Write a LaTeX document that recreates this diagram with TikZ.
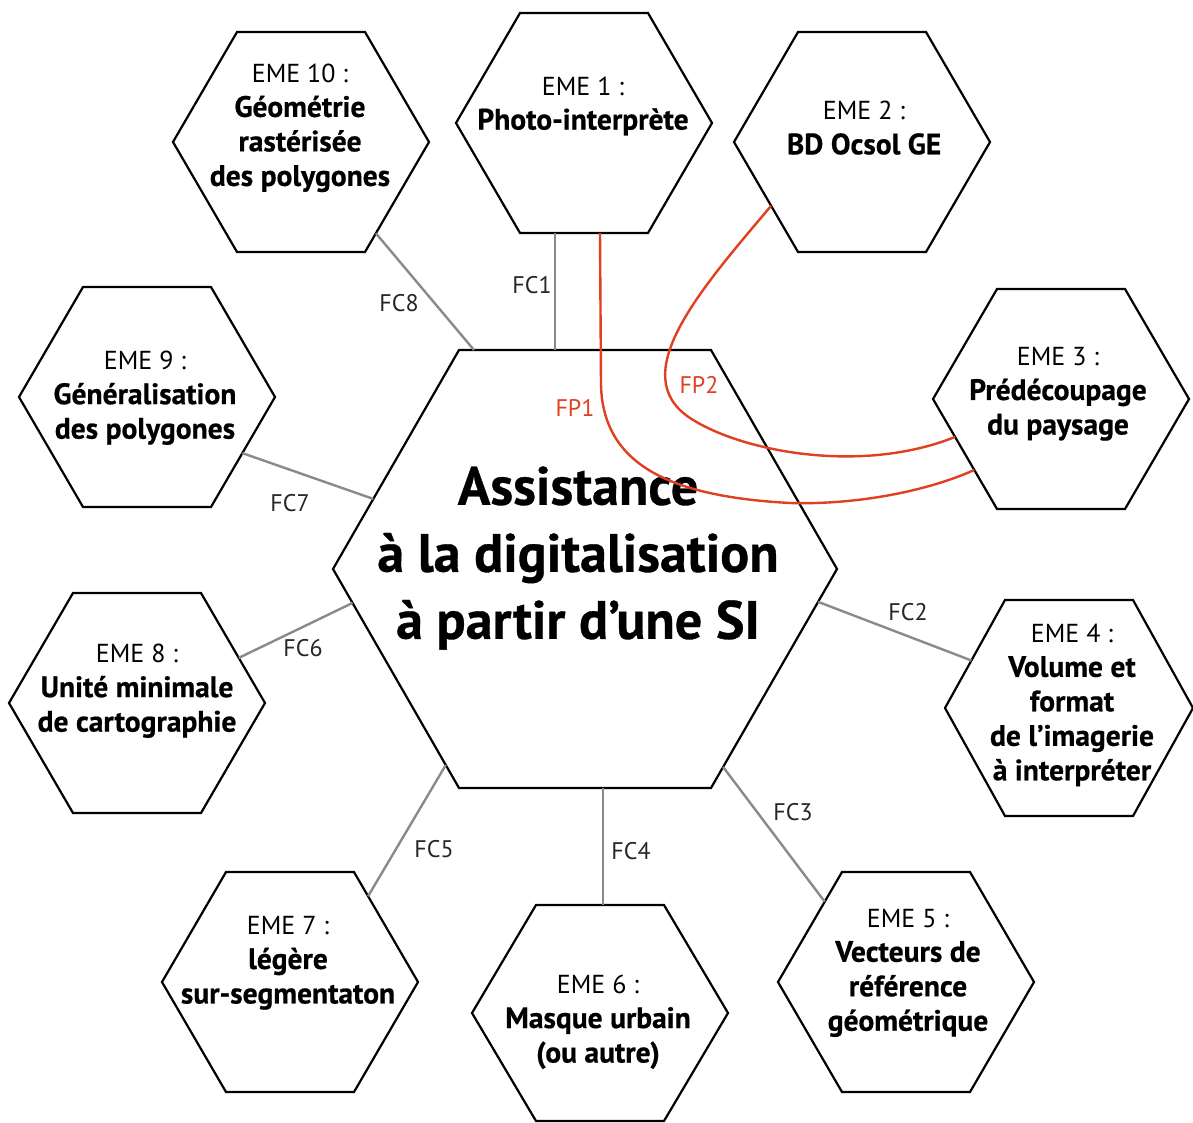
\documentclass[tikz,border=0pt]{standalone}
\usepackage{fontspec}
\setmainfont{PT Sans}[BoldFeatures={FakeBold=0.6}]
\usetikzlibrary{calc}
\definecolor{fcgrey}{HTML}{8A8A8A}
\definecolor{fpred}{HTML}{E0401F}
\newcommand{\hb}[1]{{\fontsize{29.5}{34.5}\selectfont\bfseries #1}}
\tikzset{
  hexline/.style={draw=black, line width=2.2pt, line join=miter},
  fcline/.style={draw=fcgrey, line width=2.4pt},
  fpline/.style={draw=fpred, line width=2.4pt},
  emetext/.style={align=center, inner sep=0pt, font=\fontsize{26}{34.5}\selectfont},
  centertext/.style={align=center, inner sep=0pt, font=\fontsize{54}{67}\selectfont\bfseries},
  fclabel/.style={inner sep=0pt, font=\fontsize{24}{26}\selectfont, text=black!85},
  fplabel/.style={inner sep=0pt, font=\fontsize{24}{26}\selectfont, text=fpred},
}
\newcommand{\hexshape}[6]{% name, cx, cy, half-width, half-edge, half-height
  \coordinate (#1-c) at (#2,#3);
  \coordinate (#1-l) at (#2-#4,#3);
  \coordinate (#1-tl) at (#2-#5,#3-#6);
  \coordinate (#1-tr) at (#2+#5,#3-#6);
  \coordinate (#1-r) at (#2+#4,#3);
  \coordinate (#1-br) at (#2+#5,#3+#6);
  \coordinate (#1-bl) at (#2-#5,#3+#6);
  \draw[hexline] (#1-l) -- (#1-tl) -- (#1-tr) -- (#1-r) -- (#1-br) -- (#1-bl) -- cycle;
}
\begin{document}
\begin{tikzpicture}[x=1pt,y=-1pt]
\useasboundingbox (0,0) rectangle (1193,1123);
\fill[white] (0,0) rectangle (1193,1123);

% hexagons
\hexshape{c}{585}{569}{252}{126}{219}
\hexshape{h1}{584}{123}{128}{64}{110}
\hexshape{h2}{862}{142}{128}{64}{110}
\hexshape{h3}{1061}{399}{128}{64}{110}
\hexshape{h4}{1069}{708}{124}{64}{108}
\hexshape{h5}{906}{982}{128}{64}{110}
\hexshape{h6}{600}{1013}{128}{64}{108}
\hexshape{h7}{290}{982}{128}{64}{110}
\hexshape{h8}{137}{703}{128}{64}{110}
\hexshape{h9}{147}{397}{128}{64}{110}
\hexshape{h10}{301}{142}{128}{64}{110}

% connector end points
\coordinate (fc1a) at ($(h1-bl)+(35,0)$);
\coordinate (fc1b) at ($(c-tl)+(96,0)$);
\coordinate (fc2a) at ($(c-r)!0.15!(c-br)$);
\coordinate (fc2b) at ($(h4-tl)!0.56!(h4-l)$);
\coordinate (fc3a) at ($(c-r)!0.904!(c-br)$);
\coordinate (fc3b) at ($(h5-tl)!0.27!(h5-l)$);
\coordinate (fc4a) at ($(c-bl)+(144,0)$);
\coordinate (fc4b) at ($(h6-tl)+(67,0)$);
\coordinate (fc5a) at ($(c-l)!0.895!(c-bl)$);
\coordinate (fc5b) at ($(h7-tr)!0.22!(h7-r)$);
\coordinate (fc6a) at ($(c-l)!0.155!(c-bl)$);
\coordinate (fc6b) at ($(h8-tr)!0.59!(h8-r)$);
\coordinate (fc7a) at ($(c-tl)!0.68!(c-l)$);
\coordinate (fc7b) at ($(h9-r)!0.51!(h9-br)$);
\coordinate (fc8a) at ($(c-tl)+(15,0)$);
\coordinate (fc8b) at ($(h10-r)!0.83!(h10-br)$);

\draw[fcline] (fc1a) -- (fc1b);
\draw[fcline] (fc2a) -- (fc2b);
\draw[fcline] (fc3a) -- (fc3b);
\draw[fcline] (fc4a) -- (fc4b);
\draw[fcline] (fc5a) -- (fc5b);
\draw[fcline] (fc6a) -- (fc6b);
\draw[fcline] (fc7a) -- (fc7b);
\draw[fcline] (fc8a) -- (fc8b);

% connector labels
\node[fclabel] (lfc1) at (532,285) {FC1};
\node[fclabel] (lfc2) at (908,612) {FC2};
\node[fclabel] (lfc3) at (793,812) {FC3};
\node[fclabel] (lfc4) at (631,851) {FC4};
\node[fclabel] (lfc5) at (434,849) {FC5};
\node[fclabel] (lfc6) at (303,648) {FC6};
\node[fclabel] (lfc7) at (290,503) {FC7};
\node[fclabel] (lfc8) at (399,303) {FC8};

% texts
\node[centertext] (tc) at (578,558) {Assistance\\à la digitalisation\\à partir d’une SI};
\node[emetext] (t1) at (583,106) {EME 1 :\\\hb{Photo-interprète}};
\node[emetext] (t2) at (864,128) {EME 2 :\\\hb{BD Ocsol GE}};
\node[emetext] (t3) at (1058,394) {EME 3 :\\\hb{Prédécoupage}\\\hb{du paysage}};
\node[emetext] (t4) at (1072,705) {EME 4 :\\\hb{Volume et}\\\hb{format}\\\hb{de l’imagerie}\\\hb{à interpréter}};
\node[emetext] (t5) at (908,973) {EME 5 :\\\hb{Vecteurs de}\\\hb{référence}\\\hb{géométrique}};
\node[emetext] (t6) at (598,1022) {EME 6 :\\\hb{Masque urbain}\\\hb{(ou autre)}};
\node[emetext] (t7) at (288,963) {EME 7 :\\\hb{légère}\\\hb{sur-segmentaton}};
\node[emetext] (t8) at (137,691) {EME 8 :\\\hb{Unité minimale}\\\hb{de cartographie}};
\node[emetext] (t9) at (145,398) {EME 9 :\\\hb{Généralisation}\\\hb{des polygones}};
\node[emetext] (t10) at (300,128) {EME 10 :\\\hb{Géométrie}\\\hb{rastérisée}\\\hb{des polygones}};

% red flows
\coordinate (fp1a) at ($(h1-bl)+(80,0)$);
\coordinate (fp1b) at ($(h3-l)!0.645!(h3-bl)$);
\coordinate (fp2a) at ($(h2-l)!0.58!(h2-bl)$);
\coordinate (fp2b) at ($(h3-l)!0.345!(h3-bl)$);
\draw[fpline] (fp1a) -- (601,385) .. controls (603,470) and (680,497) .. (790,503)
   .. controls (860,505) and (930,490) .. (fp1b);
\draw[fpline] (fp2a) .. controls (700,290) and (625,375) .. (690,418)
   .. controls (740,451) and (860,475) .. (fp2b);
\node[fplabel] (lfp1) at (575,408) {FP1};
\node[fplabel] (lfp2) at (699,385) {FP2};
\end{tikzpicture}
\end{document}
